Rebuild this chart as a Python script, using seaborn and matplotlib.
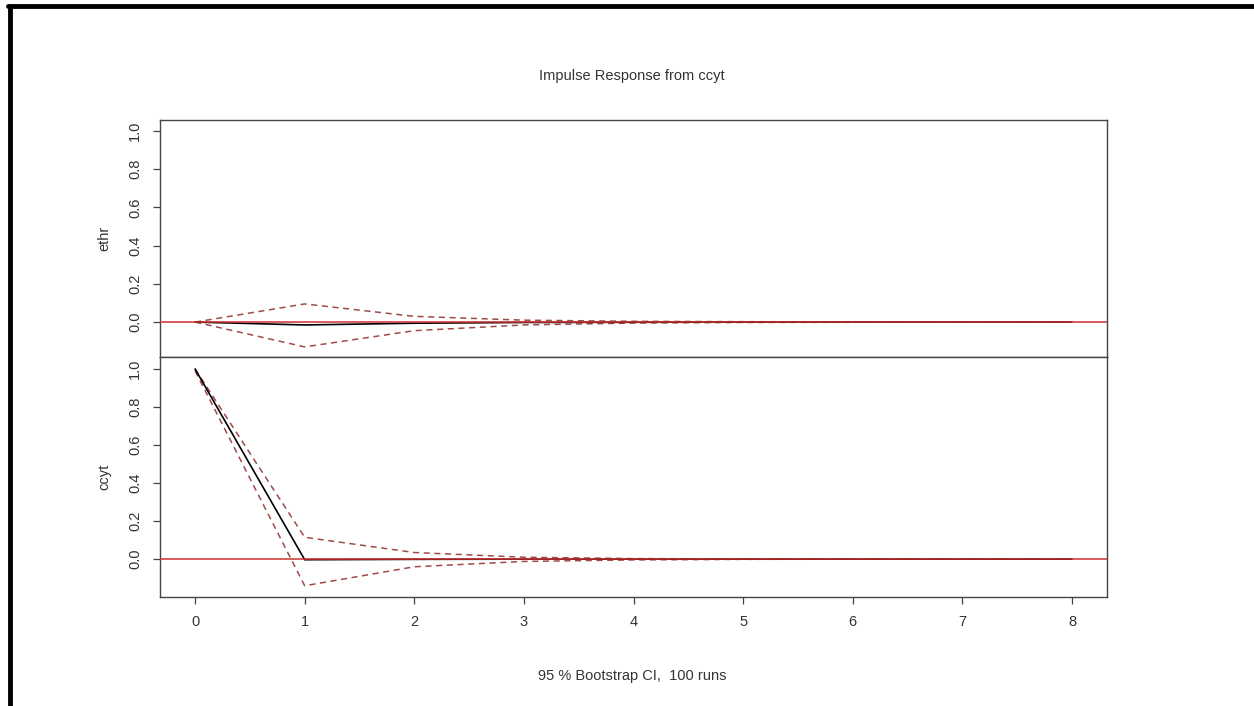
import numpy as np
import pandas as pd
import seaborn as sns
import matplotlib
matplotlib.use("Agg")
import matplotlib.pyplot as plt
from matplotlib.lines import Line2D

# horizon
steps = [0, 1, 2, 3, 4, 5, 6, 7, 8]

# response of ethr to a ccyt shock
ethr_irf = [0.0, -0.015, -0.006, -0.002, -0.001, 0.0, 0.0, 0.0, 0.0]
ethr_upper = [0.0, 0.095, 0.03, 0.01, 0.004, 0.002, 0.001, 0.0, 0.0]
ethr_lower = [0.0, -0.13, -0.045, -0.015, -0.005, -0.002, -0.001, 0.0, 0.0]

# response of ccyt to its own shock
ccyt_irf = [1.0, -0.003, -0.001, 0.0, 0.0, 0.0, 0.0, 0.0, 0.0]
ccyt_upper = [1.0, 0.115, 0.035, 0.01, 0.003, 0.001, 0.0, 0.0, 0.0]
ccyt_lower = [0.99, -0.14, -0.04, -0.012, -0.004, -0.001, 0.0, 0.0, 0.0]

panels = [
    ("ethr", ethr_irf, ethr_upper, ethr_lower, (-0.183, 1.058)),
    ("ccyt", ccyt_irf, ccyt_upper, ccyt_lower, (-0.199, 1.063)),
]

sns.set_style("white")
plt.rcParams["font.family"] = ["Liberation Sans", "DejaVu Sans"]
plt.rcParams["font.size"] = 10.5

fig = plt.figure(figsize=(12.54, 7.06), dpi=100)
ax_top = fig.add_axes([0.1276, 0.4943, 0.7552, 0.3357])
ax_bot = fig.add_axes([0.1276, 0.1544, 0.7552, 0.3399], sharex=ax_top)

ci_col = "#a04a4a"
spine_col = "#444444"

for ax, (name, irf, up, lo, ylim) in zip([ax_top, ax_bot], panels):
    df = pd.DataFrame({"step": steps, "irf": irf, "upper": up, "lower": lo})
    sns.lineplot(data=df, x="step", y="upper", ax=ax, color=ci_col,
                 lw=1.1, linestyle=(0, (4, 3)), zorder=3)
    sns.lineplot(data=df, x="step", y="lower", ax=ax, color=ci_col,
                 lw=1.1, linestyle=(0, (4, 3)), zorder=3)
    sns.lineplot(data=df, x="step", y="irf", ax=ax, color="black",
                 lw=1.2, zorder=4)
    # zero line drawn last, as R's abline does
    ax.axhline(0, color="#d03030", lw=1.1, zorder=5)
    ax.set_ylim(*ylim)
    ax.set_xlim(-0.32, 8.32)
    ax.set_yticks([0.0, 0.2, 0.4, 0.6, 0.8, 1.0])
    ax.set_yticklabels(["0.0", "0.2", "0.4", "0.6", "0.8", "1.0"],
                       rotation=90, va="center", color="#333333")
    ax.set_ylabel(name, color="#333333", labelpad=12)
    ax.set_xlabel("")
    for s in ax.spines.values():
        s.set_color(spine_col)
        s.set_linewidth(1.0)
        s.set_visible(True)
    ax.tick_params(axis="y", direction="out", length=5, width=0.9,
                   color=spine_col, left=True, pad=8)

ax_top.tick_params(axis="x", bottom=False, labelbottom=False)
ax_bot.set_xticks(steps)
ax_bot.set_xticklabels([str(s) for s in steps], color="#333333")
ax_bot.tick_params(axis="x", direction="out", length=5, width=0.9,
                   color=spine_col, bottom=True, pad=8)

fig.text(0.504, 0.893, "Impulse Response from ccyt", ha="center",
         va="center", color="#333333")
fig.text(0.504, 0.043, "95 % Bootstrap CI,  100 runs", ha="center",
         va="center", color="#333333")

# black frame of the screenshot
fig.add_artist(Line2D([10 / 1254, 10 / 1254], [0, 1 - 6 / 706],
                      transform=fig.transFigure, color="black", lw=3.5))
fig.add_artist(Line2D([8 / 1254, 1], [1 - 6 / 706, 1 - 6 / 706],
                      transform=fig.transFigure, color="black", lw=3.5))

fig.savefig("out.png", dpi=100, facecolor="white")
